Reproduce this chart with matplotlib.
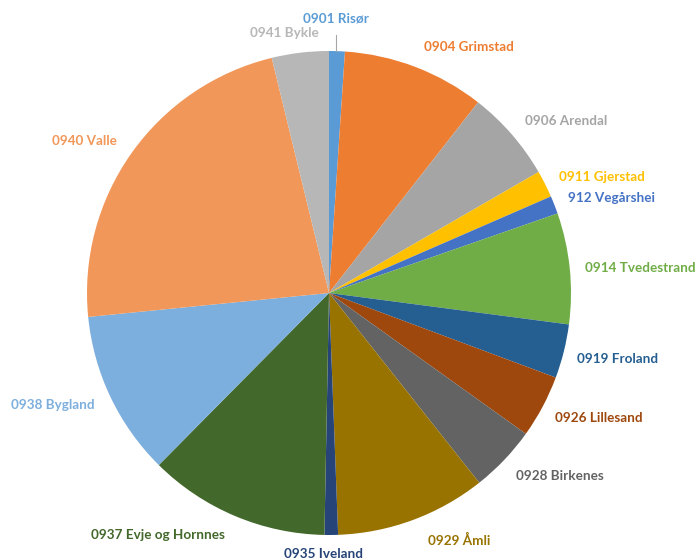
import matplotlib
matplotlib.use("Agg")
import matplotlib.pyplot as plt
import numpy as np

labels = ["0901 Risør", "0904 Grimstad", "0906 Arendal", "0911 Gjerstad", "912 Vegårshei",
          "0914 Tvedestrand", "0919 Froland", "0926 Lillesand", "0928 Birkenes", "0929 Åmli",
          "0935 Iveland", "0937 Evje og Hornnes", "0938 Bygland", "0940 Valle", "0941 Bykle"]
values = [1.05, 9.5, 6.1, 1.8, 1.2, 7.4, 3.6, 4.2, 4.45, 10.05, 0.9, 12.1, 11.0, 22.75, 3.8]
colors = ["#5B9BD5", "#ED7D31", "#A5A5A5", "#FFC000", "#4472C4", "#70AD47", "#255E91",
          "#9E480E", "#636363", "#997300", "#264478", "#43682B", "#7CAFDD", "#F1975A", "#B7B7B7"]

# label positions (layout, in pie-radius units)
label_pos = [(0.03, 1.136), (0.579, 1.017), (0.979, 0.711), (1.128, 0.479), (1.169, 0.393),
             (1.285, 0.103), (1.194, -0.273), (1.116, -0.517), (0.955, -0.756), (0.537, -1.021),
             (-0.021, -1.079), (-0.707, -1.0), (-1.14, -0.463), (-1.012, 0.628), (-0.186, 1.074)]

W, H = 697, 560
cx, cy, R = 329, 293, 242
fig = plt.figure(figsize=(W / 100, H / 100), dpi=100)
ax = fig.add_axes([0, 0, 1, 1])
ax.axis("off")

wedges, _ = ax.pie(values, colors=colors, startangle=90, counterclock=False,
                   radius=1.0, center=(0, 0), frame=False,
                   wedgeprops=dict(linewidth=0))
ax.set_xlim(-cx / R, (W - cx) / R)
ax.set_ylim(-(H - cy) / R, cy / R)
ax.set_aspect("auto")

for w, lab, col, pos in zip(wedges, labels, colors, label_pos):
    ax.text(pos[0], pos[1], lab, color=col, fontsize=9.7, fontweight="bold",
            family=["Lato", "DejaVu Sans"], ha="center", va="center")

# leader line for Risør
w0 = wedges[0]
mid = np.deg2rad((w0.theta1 + w0.theta2) / 2)
ax.plot([label_pos[0][0], label_pos[0][0]], [label_pos[0][1] - 0.07, np.sin(mid) * 1.0],
        color="#A6A6A6", linewidth=0.8)

fig.savefig("out.png", dpi=100)
